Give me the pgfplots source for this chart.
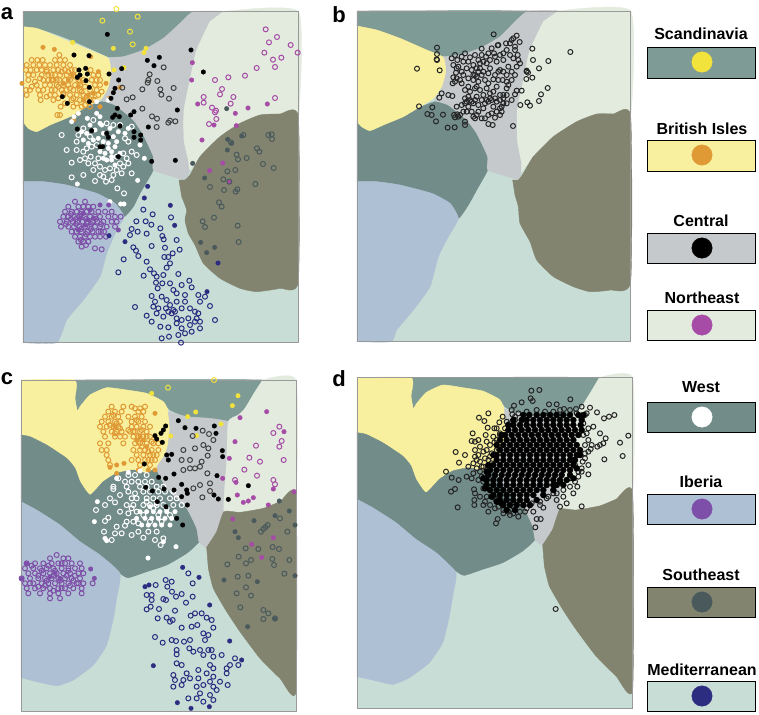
\documentclass[border=0pt]{standalone}
\usepackage{pgfplots}
\pgfplotsset{compat=1.18}
\usepackage{fontspec}
\setmainfont{Liberation Sans}
\definecolor{cSc}{HTML}{7F9B95}
\definecolor{cBr}{HTML}{F8F09E}
\definecolor{cCe}{HTML}{C5C9CB}
\definecolor{cNe}{HTML}{E3EBDF}
\definecolor{cWe}{HTML}{728C8A}
\definecolor{cIb}{HTML}{AEC0D3}
\definecolor{cSe}{HTML}{82846F}
\definecolor{cMe}{HTML}{C7DDD6}
\definecolor{mSc}{HTML}{F2E23C}
\definecolor{mBr}{HTML}{E09A35}
\definecolor{mCe}{HTML}{000000}
\definecolor{mNe}{HTML}{A64CA6}
\definecolor{mWe}{HTML}{FFFFFF}
\definecolor{mIb}{HTML}{7E4FA8}
\definecolor{mSe}{HTML}{4A5A5C}
\definecolor{mMe}{HTML}{2C2C80}
\pgfplotsset{
 panel/.style={hide axis,scale only axis,clip=false,y dir=reverse,anchor=north west},
 rg/.style={fill=#1,draw=#1,line width=0.4pt,smooth,tension=0.3},
 base/.style={fill=#1,draw=#1,line width=0.4pt},
 ring/.style={only marks,mark=o,mark size=2.5pt,mark options={draw=#1,fill=none,line width=1pt}},
 dot/.style={only marks,mark=*,mark size=2.3pt,mark options={draw=#1,fill=#1,line width=0.3pt}},
 frame/.style={draw=black!40,line width=0.9pt,fill=none},
}
\begin{document}
\begin{tikzpicture}
% base axis: page, legend, letters
\begin{axis}[panel,at={(0pt,0pt)},width=759pt,height=714pt,xmin=0,xmax=759,ymin=0,ymax=714]
\addplot[fill=white,draw=none] coordinates {(0,0)(759,0)(759,714)(0,714)} -- cycle;
\addplot[fill=cSc,draw=black,line width=0.9pt] coordinates {(647,47)(755,47)(755,78)(647,78)} -- cycle;
\addplot[fill=cBr,draw=black,line width=0.9pt] coordinates {(647,140)(755,140)(755,171)(647,171)} -- cycle;
\addplot[fill=cCe,draw=black,line width=0.9pt] coordinates {(647,233)(755,233)(755,263)(647,263)} -- cycle;
\addplot[fill=cNe,draw=black,line width=0.9pt] coordinates {(647,310)(755,310)(755,340)(647,340)} -- cycle;
\addplot[fill=cWe,draw=black,line width=0.9pt] coordinates {(647,402)(755,402)(755,432)(647,432)} -- cycle;
\addplot[fill=cIb,draw=black,line width=0.9pt] coordinates {(647,494)(755,494)(755,524)(647,524)} -- cycle;
\addplot[fill=cSe,draw=black,line width=0.9pt] coordinates {(647,587)(755,587)(755,617)(647,617)} -- cycle;
\addplot[fill=cMe,draw=black,line width=0.9pt] coordinates {(647,681)(755,681)(755,711)(647,711)} -- cycle;
\addplot[only marks,mark=*,mark size=10.2pt,mark options={draw=mSc,fill=mSc}] coordinates {(702,62)};
\addplot[only marks,mark=*,mark size=10.2pt,mark options={draw=mBr,fill=mBr}] coordinates {(702,155)};
\addplot[only marks,mark=*,mark size=10.2pt,mark options={draw=mCe,fill=mCe}] coordinates {(702,248)};
\addplot[only marks,mark=*,mark size=10.2pt,mark options={draw=mNe,fill=mNe}] coordinates {(702,325)};
\addplot[only marks,mark=*,mark size=10.2pt,mark options={draw=mWe,fill=mWe}] coordinates {(702,417)};
\addplot[only marks,mark=*,mark size=10.2pt,mark options={draw=mIb,fill=mIb}] coordinates {(702,509)};
\addplot[only marks,mark=*,mark size=10.2pt,mark options={draw=mSe,fill=mSe}] coordinates {(702,602)};
\addplot[only marks,mark=*,mark size=10.2pt,mark options={draw=mMe,fill=mMe}] coordinates {(702,696)};
\begin{scope}[every node/.style={font=\fontsize{16}{18}\selectfont\bfseries,inner sep=0pt}]
\node at (axis cs:701,34) {Scandinavia};
\node at (axis cs:702,129) {British Isles};
\node at (axis cs:701,221) {Central};
\node at (axis cs:702,298) {Northeast};
\node at (axis cs:701,387) {West};
\node at (axis cs:701,482) {Iberia};
\node at (axis cs:701,575) {Southeast};
\node at (axis cs:702,670) {Mediterranean};
\end{scope}
\begin{scope}[every node/.style={font=\fontsize{22}{24}\selectfont\bfseries,inner sep=0pt}]
\node at (axis cs:7,14) {a};
\node at (axis cs:339,15) {b};
\node at (axis cs:7,379) {c};
\node at (axis cs:339,379) {d};
\end{scope}
\end{axis}
% ---------- panel a
\begin{axis}[panel,at={(0pt,0pt)},width=310pt,height=350pt,xmin=0,xmax=930,ymin=0,ymax=1050]
\addplot[base=cMe] coordinates {(69,35)(895,35)(895,1028)(69,1028)} -- cycle;
\addplot[rg=cSc] coordinates {(69,35)(580,35)(540,70)(490,115)(430,150)(370,170)(330,172)(280,150)(200,115)(130,90)(69,80)} -- cycle;
\addplot[rg=cWe] coordinates {(69,365)(85,385)(110,393)(150,375)(210,350)(260,322)(305,305)(345,315)(400,360)(430,405)(460,470)(460,510)(420,580)(400,620)(372,650)(345,610)(290,580)(200,555)(130,545)(69,545)} -- cycle;
\addplot[rg=cCe] coordinates {(330,172)(370,170)(430,150)(490,115)(540,70)(580,35)(670,35)(630,65)(590,150)(570,240)(552,330)(552,420)(565,480)(570,510)(555,540)(520,530)(460,510)(460,470)(430,405)(400,360)(345,315)(305,300)(325,260)(333,215)} -- cycle;
\addplot[rg=cBr] coordinates {(69,80)(110,85)(160,105)(220,130)(280,155)(325,175)(333,215)(325,260)(305,295)(260,320)(210,350)(150,375)(110,395)(85,385)(69,365)} -- cycle;
\addplot[rg=cNe] coordinates {(670,35)(895,35)(895,350)(840,342)(780,345)(720,370)(660,410)(600,470)(570,510)(565,480)(552,420)(552,330)(570,240)(590,150)(630,65)} -- cycle;
\addplot[rg=cSe] coordinates {(537,540)(555,540)(570,525)(600,470)(660,410)(720,370)(780,345)(840,342)(895,350)(895,845)(840,865)(770,875)(720,865)(660,835)(610,790)(585,735)(565,700)(555,660)(560,630)(545,590)} -- cycle;
\addplot[rg=cIb] coordinates {(69,545)(130,545)(200,555)(290,580)(345,610)(372,650)(350,690)(320,760)(300,830)(250,900)(200,960)(170,1028)(69,1028)} -- cycle;
\addplot[frame] coordinates {(69,35)(895,35)(895,1028)(69,1028)} -- cycle;
\addplot[ring=mSc] coordinates {(349,27)(307,62)(413,50)(390,95)(398,133)};
\addplot[dot=mSc] coordinates {(218,127)(340,145)(438,145)(432,158)(342,210)(372,203)};
\addplot[ring=mBr] coordinates {(178,165)(95,180)(112,180)(128,180)(165,180)(180,180)(80,195)(100,195)(118,195)(150,195)(170,195)(190,195)(210,195)(78,210)(92,210)(110,210)(125,210)(140,210)(160,210)(175,210)(195,210)(215,210)(225,210)(272,210)(85,225)(125,225)(145,225)(165,225)(180,225)(200,225)(220,225)(280,225)(295,225)(85,240)(130,240)(145,240)(160,240)(178,240)(195,240)(210,240)(235,240)(250,240)(275,240)(290,240)(110,255)(150,255)(170,255)(190,255)(205,255)(225,255)(240,255)(285,255)(300,255)(78,270)(90,270)(115,270)(165,270)(185,270)(200,270)(220,270)(240,270)(270,270)(290,270)(80,285)(120,285)(150,285)(165,285)(190,285)(210,285)(230,285)(250,285)(275,285)(295,285)(122,300)(160,300)(215,300)(240,300)(262,300)(285,300)(182,320)(220,320)(245,320)(270,320)(172,345)(180,345)(140,215)(155,225)(170,240)(185,215)(205,215)(225,230)(240,245)(255,260)(245,275)(210,265)(190,280)(175,260)(155,270)(135,255)(120,235)(100,225)(105,245)(95,260)(135,195)(195,180)(155,240)(220,295)(260,290)(280,300)(305,275)(300,240)(130,270)(140,290)(175,295)(195,310)(230,310)(255,315)};
\addplot[dot=mBr] coordinates {(129,142)(163,148)(66,250)(272,170)(295,215)(318,250)(360,262)(300,320)(235,340)(220,360)(328,295)(280,280)(250,300)(205,240)(190,250)(215,225)(235,260)(265,285)};
\addplot[ring=mWe] coordinates {(185,405)(200,450)(230,450)(250,455)(215,488)(240,480)(255,475)(272,470)(285,490)(300,500)(315,510)(330,505)(350,510)(370,500)(385,490)(395,520)(250,525)(215,532)(285,543)(300,525)(318,545)(335,540)(352,565)(372,580)(310,530)(365,520)(280,510)(350,470)(370,460)(395,455)(410,465)(385,425)(375,415)(360,375)(395,380)(340,375)(320,370)(275,440)(290,435)(260,445)(235,405)(250,385)(280,360)(265,490)(295,475)(340,525)(380,475)(270,410)(305,440)(360,490)(230,425)};
\addplot[dot=mWe] coordinates {(262,355)(290,340)(222,350)(215,365)(300,350)(235,340)(325,300)(290,305)(232,552)(413,541)(433,475)(420,435)(330,605)(362,612)(372,612)(300,370)(270,375)(245,395)(260,400)(285,390)(305,375)(330,385)(355,395)(310,400)(340,410)(295,415)(325,430)(345,440)(300,455)(315,460)(335,455)(350,425)(320,480)(335,480)(310,475)(345,495)(385,385)(375,400)(280,420)(250,420)(265,430)(360,460)(325,445)(310,425)(335,470)};
\addplot[ring=mCe!75!white] coordinates {(491,202)(449,223)(443,248)(472,243)(427,268)(481,268)(484,284)(521,264)(507,296)(380,298)(398,292)(367,263)(427,326)(456,349)(471,356)(470,381)(505,368)(510,362)(526,364)(445,240)};
\addplot[dot=mCe] coordinates {(322,103)(222,165)(267,167)(442,181)(478,172)(462,197)(573,150)(365,206)(610,216)(327,222)(356,240)(237,210)(257,205)(240,225)(232,232)(262,222)(258,242)(268,262)(187,290)(202,310)(268,305)(345,265)(340,278)(333,295)(352,325)(345,345)(338,352)(402,335)(392,345)(532,330)(445,381)(232,387)(275,392)(320,400)(325,412)(360,378)(402,395)(402,412)(422,405)(422,420)(300,440)(308,440)(355,470)(455,484)(526,481)(358,350)};
\addplot[ring=mNe] coordinates {(797,88)(831,111)(807,127)(872,135)(893,158)(793,158)(844,173)(819,179)(825,201)(770,204)(735,227)(685,232)(645,240)(666,267)(660,283)(700,291)(825,294)(611,291)(611,308)(692,311)(636,323)(648,332)(645,337)(649,357)(627,372)};
\addplot[dot=mNe] coordinates {(577,188)(575,240)(593,312)(744,324)(802,312)(706,340)(709,377)(642,375)(606,420)(668,489)(629,512)(688,546)};
\addplot[ring=mSe] coordinates {(730,405)(805,405)(815,403)(816,417)(693,427)(771,445)(778,455)(710,464)(714,478)(740,474)(789,492)(821,504)(682,514)(706,510)(670,538)(688,545)(630,561)(672,570)(707,575)(712,568)(766,552)(657,607)(665,620)(642,653)(608,664)(615,681)(713,677)(716,726)};
\addplot[dot=mSe] coordinates {(680,326)(683,418)(682,450)(695,430)(578,490)(614,534)(602,727)(644,742)(620,758)(725,408)};
\addplot[ring=mIb] coordinates {(225,605)(255,605)(205,620)(235,620)(250,620)(265,620)(280,620)(195,635)(215,635)(230,635)(245,635)(260,635)(275,635)(295,635)(315,635)(335,635)(190,650)(205,650)(222,650)(238,650)(255,650)(270,650)(285,650)(300,650)(325,650)(345,650)(362,650)(180,665)(200,665)(218,665)(232,665)(248,665)(262,665)(278,665)(292,665)(310,665)(335,665)(350,665)(183,680)(205,680)(222,680)(238,680)(255,680)(270,680)(285,680)(300,680)(320,680)(345,680)(215,695)(230,695)(245,695)(262,695)(278,695)(295,695)(312,695)(225,710)(240,710)(255,710)(270,710)(285,710)(300,710)(318,710)(235,725)(250,725)(265,725)(245,740)(285,745)(305,748)(213,642)(228,657)(243,642)(258,657)(273,672)(228,672)(243,687)(258,702)(273,687)(213,657)(198,672)(288,657)(303,672)(243,720)(258,735)(303,695)};
\addplot[dot=mIb] coordinates {(355,690)(326,615)(300,615)(250,640)(240,655)(265,660)(255,675)(280,655)(235,690)(270,630)};
\addplot[ring=mMe] coordinates {(430,629)(458,643)(513,652)(409,664)(437,664)(454,674)(481,685)(395,687)(413,695)(440,701)(390,705)(487,708)(491,718)(530,720)(400,742)(408,752)(455,738)(495,743)(539,749)(415,768)(371,778)(493,771)(505,771)(518,760)(440,785)(510,790)(500,803)(355,817)(431,827)(450,808)(462,820)(470,830)(490,825)(535,822)(468,848)(473,865)(487,850)(510,850)(545,855)(568,842)(575,862)(520,870)(530,880)(555,885)(595,885)(615,890)(455,888)(465,905)(485,890)(500,900)(510,915)(520,930)(530,905)(555,905)(600,905)(405,921)(460,920)(475,925)(498,925)(505,935)(515,940)(525,935)(545,925)(570,925)(585,935)(595,940)(630,918)(440,947)(455,965)(470,940)(490,950)(530,955)(545,960)(565,955)(590,955)(600,965)(645,960)(481,980)(505,982)(530,970)(545,985)(570,975)(585,965)(600,985)(485,1015)(507,1010)(535,1005)(555,1000)(575,995)(543,1028)};
\addplot[dot=mMe] coordinates {(443,559)(433,594)(511,616)(524,676)(375,725)(654,789)(621,875)(327,707)};
\end{axis}
% ---------- panel b
\begin{axis}[panel,at={(340pt,0pt)},width=290pt,height=350pt,xmin=0,xmax=870,ymin=0,ymax=1050]
\addplot[base=cMe] coordinates {(51,33)(872,33)(872,1025)(51,1025)} -- cycle;
\addplot[rg=cSc] coordinates {(51,33)(565,33)(530,60)(480,110)(420,145)(360,165)(310,170)(260,150)(180,115)(110,90)(51,78)} -- cycle;
\addplot[rg=cWe] coordinates {(51,365)(65,380)(90,392)(130,375)(190,350)(240,322)(285,305)(325,315)(380,360)(410,400)(443,470)(443,510)(410,570)(385,615)(355,655)(330,610)(275,580)(180,555)(110,545)(51,545)} -- cycle;
\addplot[rg=cCe] coordinates {(310,170)(360,165)(420,145)(480,110)(530,60)(565,33)(655,33)(610,65)(570,150)(550,240)(532,330)(532,420)(545,490)(545,510)(535,538)(505,530)(443,510)(443,470)(410,400)(380,360)(325,315)(285,300)(305,260)(317,215)} -- cycle;
\addplot[rg=cBr] coordinates {(51,78)(110,90)(180,115)(260,150)(310,172)(317,215)(305,260)(280,295)(240,320)(190,350)(130,375)(90,392)(65,380)(51,365)} -- cycle;
\addplot[rg=cNe] coordinates {(655,33)(872,33)(872,348)(820,342)(770,342)(710,365)(640,410)(580,470)(545,515)(545,490)(532,420)(532,330)(550,240)(570,150)(610,65)} -- cycle;
\addplot[rg=cSe] coordinates {(518,540)(535,540)(550,520)(580,470)(640,410)(710,365)(770,342)(820,342)(872,348)(872,845)(810,870)(750,875)(700,860)(640,830)(590,780)(570,725)(540,670)(535,620)(525,585)} -- cycle;
\addplot[rg=cIb] coordinates {(51,545)(110,545)(180,555)(275,580)(330,610)(355,655)(325,710)(295,770)(270,860)(220,930)(170,990)(153,1025)(51,1025)} -- cycle;
\addplot[frame] coordinates {(51,33)(872,33)(872,1025)(51,1025)} -- cycle;
\addplot[ring=black!85] coordinates {(461,103)(291,143)(291,162)(291,180)(290,178)(231,206)(299,211)(237,319)(277,322)(262,342)(275,345)(309,344)(288,364)(323,383)(344,382)(375,375)(375,365)(345,352)(352,343)(342,345)(519,378)(691,156)(577,146)(579,180)(625,183)(597,205)(623,264)(603,283)(597,303)(562,307)(570,317)(541,315)(577,233)(560,212)(564,218)(559,237)(530,107)(515,120)(539,126)(525,140)(498,130)(473,136)(425,146)(455,145)(462,160)(375,160)(390,172)(335,175)(352,180)(340,195)(370,185)(380,205)(415,180)(438,170)(430,185)(490,160)(510,165)(533,165)(535,180)(490,180)(505,200)(530,200)(480,210)(500,225)(515,240)(560,215)(348,218)(340,232)(338,250)(360,240)(370,225)(405,225)(400,240)(425,225)(410,260)(435,240)(460,238)(475,215)(488,240)(375,270)(405,265)(440,265)(470,260)(500,265)(525,283)(545,272)(530,272)(305,280)(325,285)(337,288)(298,293)(375,295)(390,300)(410,290)(430,285)(450,295)(470,305)(490,295)(515,300)(365,315)(400,310)(430,325)(445,305)(485,320)(380,335)(395,335)(410,345)(425,355)(445,345)(465,353)(485,335)(445,372)(458,375)(360,345)(375,310)(450,180)(400,195)(420,205)(470,185)(445,220)(510,130)(520,115)(405,355)(435,355)(490,310)(385,290)(400,225)(410,230)(415,215)(460,275)(355,200)(365,250)(345,245)(525,150)(500,245)(385,260)(455,300)(480,325)(440,300)(395,305)(420,190)(440,190)(480,165)(475,135)(345,165)(365,170)(385,185)(405,165)(425,165)(445,160)(465,170)(500,150)(520,175)(540,190)(350,205)(365,215)(395,210)(410,205)(430,215)(450,205)(465,225)(490,215)(515,215)(525,225)(350,235)(385,235)(415,245)(445,250)(475,240)(505,255)(390,275)(420,270)(450,280)(480,285)(500,285)(350,320)(385,320)(415,315)(435,310)(460,320)(500,310)(370,335)(355,350)(400,350)(415,335)(455,340)(470,335)(480,345)(380,305)(405,300)(425,300)(465,295)(480,300)(490,285)};
\end{axis}
% ---------- panel c
\begin{axis}[panel,at={(0pt,-365pt)},width=310pt,height=349pt,xmin=0,xmax=930,ymin=0,ymax=1047]
\addplot[base=cMe] coordinates {(63,45)(888,45)(888,1040)(63,1040)} -- cycle;
\addplot[rg=cSc] coordinates {(223,45)(788,45)(765,80)(735,130)(715,150)(680,168)(630,160)(560,155)(510,135)(490,110)(440,85)(380,75)(320,68)(270,90)(240,125)(232,138)(225,100)} -- cycle;
\addplot[rg=cBr] coordinates {(63,45)(223,45)(225,100)(232,138)(240,125)(270,90)(320,68)(380,75)(440,85)(490,110)(505,140)(510,190)(505,235)(495,270)(470,310)(440,325)(400,315)(350,325)(310,350)(270,390)(240,350)(225,310)(200,280)(140,240)(90,215)(63,210)} -- cycle;
\addplot[rg=cWe] coordinates {(63,210)(90,215)(140,240)(200,280)(225,310)(240,350)(270,390)(310,350)(350,325)(400,315)(440,325)(470,310)(500,370)(560,430)(590,490)(597,530)(560,565)(500,600)(440,620)(385,638)(360,625)(300,570)(240,530)(180,480)(110,435)(63,410)} -- cycle;
\addplot[rg=cCe] coordinates {(505,140)(560,155)(630,160)(685,170)(685,200)(680,290)(670,410)(672,440)(650,500)(620,547)(597,530)(590,490)(560,430)(500,370)(470,310)(495,270)(505,235)(510,190)} -- cycle;
\addplot[rg=cNe] coordinates {(788,45)(888,45)(888,392)(840,410)(790,430)(720,442)(672,440)(680,290)(685,170)(715,150)(735,130)(765,80)} -- cycle;
\addplot[rg=cSe] coordinates {(620,547)(650,500)(672,440)(720,442)(790,430)(840,410)(888,392)(888,978)(840,940)(780,880)(720,800)(680,740)(640,670)(625,610)} -- cycle;
\addplot[rg=cIb] coordinates {(63,410)(110,435)(180,480)(240,530)(300,570)(360,625)(350,700)(340,760)(320,840)(280,900)(220,945)(170,962)(110,950)(63,938)} -- cycle;
\addplot[frame] coordinates {(63,45)(888,45)(888,1040)(63,1040)} -- cycle;
\addplot[ring=mSc] coordinates {(504,68)(642,45)};
\addplot[dot=mSc] coordinates {(455,85)(714,92)(697,122)(587,141)(563,155)(663,177)(590,212)(512,213)};
\addplot[ring=mBr] coordinates {(335,125)(370,125)(395,125)(435,125)(325,140)(345,140)(365,140)(415,140)(430,140)(315,155)(335,155)(355,155)(385,155)(405,155)(425,155)(305,170)(325,170)(345,170)(360,170)(395,170)(415,170)(435,170)(300,185)(320,185)(340,185)(355,185)(395,185)(410,185)(430,185)(450,185)(310,200)(335,200)(350,200)(365,200)(390,200)(405,200)(420,200)(440,200)(315,215)(345,215)(360,215)(375,215)(400,215)(415,215)(430,215)(450,215)(300,235)(325,235)(370,235)(405,235)(420,235)(440,235)(460,235)(305,255)(320,255)(400,255)(420,255)(435,255)(455,255)(475,255)(320,270)(410,270)(430,270)(450,270)(470,270)(325,285)(395,285)(415,285)(445,285)(465,285)(330,300)(420,300)(450,300)(340,150)(350,175)(360,190)(345,205)(330,180)(410,165)(425,195)(440,215)(455,230)(425,245)(445,260)(460,270)(415,230)(400,200)(435,285)(455,285)(475,235)(385,195)(405,130)(420,130)};
\addplot[dot=mBr] coordinates {(465,145)(350,300)(330,307)(372,295)(350,325)(415,315)(445,315)(465,315)(345,185)(420,215)(430,225)(410,225)(440,245)};
\addplot[ring=mWe] coordinates {(340,365)(340,372)(355,340)(405,385)(330,400)(345,412)(288,435)(315,420)(360,440)(385,445)(325,458)(315,468)(350,485)(375,482)(400,470)(345,505)(365,505)(395,510)(312,500)(335,525)(430,518)(465,525)(490,520)(482,540)(415,500)(445,500)(470,500)(360,390)(380,420)(410,400)(385,330)(405,330)(440,330)(375,350)(395,350)(415,350)(435,350)(455,350)(380,365)(420,365)(440,365)(470,365)(490,365)(385,380)(430,380)(450,380)(475,380)(495,380)(520,380)(395,400)(440,400)(460,400)(480,400)(510,400)(530,400)(400,420)(430,420)(450,420)(470,420)(490,420)(520,420)(545,420)(440,410)(460,430)(475,450)(500,430)(430,450)(450,470)(485,470)(510,450)(395,430)(415,475)(380,470)(410,440)};
\addplot[dot=mWe] coordinates {(292,410)(283,470)(315,520)(320,527)(444,579)(528,545)(385,322)(420,318)(350,340)(490,530)(420,440)(440,440)(460,440)(480,440)(500,440)(525,440)(410,460)(435,460)(455,460)(475,460)(495,460)(515,460)(425,480)(445,480)(465,480)(485,480)(510,480)(450,425)(470,415)};
\addplot[ring=mCe!75!white] coordinates {(608,197)(578,213)(627,207)(640,225)(585,250)(610,240)(550,255)(625,250)(623,272)(545,285)(570,285)(605,290)(600,305)(550,315)(570,310)(585,310)(622,325)(630,355)(600,360)(580,370)(630,378)(607,397)};
\addplot[dot=mCe] coordinates {(535,167)(555,188)(588,190)(643,183)(648,205)(497,183)(490,195)(483,205)(465,212)(470,222)(487,232)(667,257)(668,275)(500,270)(515,268)(505,285)(433,297)(522,327)(476,337)(497,340)(651,332)(545,358)(437,367)(457,378)(492,372)(522,375)(560,375)(562,385)(642,390)(655,402)(545,395)(472,410)(498,425)(562,420)(530,460)(548,480)(745,362)(685,403)};
\addplot[ring=mNe] coordinates {(838,185)(820,204)(845,228)(838,245)(768,242)(748,278)(780,290)(851,285)(733,314)(771,332)(705,345)(820,345)(825,358)};
\addplot[dot=mNe] coordinates {(720,158)(800,140)(852,200)(705,230)(688,280)(668,340)(708,352)(820,372)(882,380)(712,390)(730,412)(745,408)(760,398)(805,420)(698,462)(820,518)(755,538)(785,577)};
\addplot[ring=mSe] coordinates {(840,460)(803,480)(797,486)(790,492)(783,500)(862,500)(737,550)(775,552)(818,546)(837,552)(716,575)(682,598)(738,595)(753,585)(817,582)(822,600)(868,585)(853,626)(713,635)(745,632)(738,667)(710,685)(753,692)(721,727)(790,735)(805,745)(790,762)(825,760)};
\addplot[dot=mSe] coordinates {(838,408)(868,438)(762,467)(825,452)(705,500)(715,518)(885,480)(885,632)(772,650)(672,645)(825,762)(743,785)};
\addplot[ring=mIb] coordinates {(170,570)(150,580)(190,580)(205,580)(80,595)(105,595)(130,595)(155,595)(175,595)(195,595)(215,595)(240,595)(75,610)(100,610)(120,610)(140,610)(160,610)(185,610)(205,610)(225,610)(245,610)(85,625)(105,625)(130,625)(150,625)(170,625)(190,625)(210,625)(235,625)(250,625)(65,640)(90,640)(115,640)(135,640)(155,640)(175,640)(195,640)(215,640)(240,640)(75,655)(100,655)(125,655)(145,655)(165,655)(185,655)(205,655)(230,655)(250,655)(278,655)(80,670)(105,670)(130,670)(150,670)(175,670)(195,670)(220,670)(245,670)(85,685)(120,685)(150,685)(175,685)(205,685)(245,685)(150,700)(180,700)(95,602)(125,617)(145,602)(165,617)(185,595)(205,617)(225,632)(115,632)(140,647)(160,632)(180,647)(200,632)(220,647)(90,655)(115,665)(135,662)(160,677)(185,670)(210,662)(235,655)};
\addplot[dot=mIb] coordinates {(272,612)(283,640)(65,642)(80,596)(165,625)(180,640)(150,635)};
\addplot[ring=mMe] coordinates {(565,625)(578,655)(497,645)(515,650)(467,660)(502,665)(516,680)(545,687)(528,695)(578,695)(440,690)(455,690)(455,705)(490,702)(498,705)(558,713)(440,733)(452,725)(477,732)(525,737)(585,745)(572,752)(605,745)(620,758)(635,765)(473,760)(500,758)(510,770)(518,765)(545,788)(575,785)(592,780)(640,788)(610,805)(625,810)(615,825)(465,816)(488,833)(515,825)(528,828)(552,830)(570,825)(530,855)(530,868)(568,850)(580,860)(600,855)(625,855)(635,855)(610,870)(640,875)(665,870)(705,880)(690,900)(715,900)(680,910)(530,895)(545,900)(630,900)(640,910)(595,915)(560,925)(520,930)(620,925)(680,925)(550,945)(525,945)(570,940)(640,935)(595,940)(630,950)(660,950)(520,965)(545,960)(590,965)(640,965)(610,960)(683,960)(600,985)(650,975)(565,1000)(590,1000)(630,990)(640,1005)(610,1010)};
\addplot[dot=mMe] coordinates {(548,607)(597,637)(447,660)(435,665)(629,720)(689,828)(460,902)(725,885)(532,1013)(573,1030)(628,1025)};
\end{axis}
% ---------- panel d
\begin{axis}[panel,at={(340pt,-365pt)},width=300pt,height=349pt,xmin=0,xmax=900,ymin=0,ymax=1047]
\addplot[base=cMe] coordinates {(51,38)(878,38)(878,1030)(51,1030)} -- cycle;
\addplot[rg=cSc] coordinates {(213,38)(778,38)(753,80)(725,125)(703,145)(668,160)(618,153)(548,148)(498,128)(478,103)(428,78)(368,68)(308,60)(258,83)(228,118)(220,131)(213,93)} -- cycle;
\addplot[rg=cBr] coordinates {(51,38)(213,38)(213,93)(220,131)(228,118)(258,83)(308,60)(368,68)(428,78)(478,103)(493,133)(498,183)(493,228)(483,263)(458,303)(428,318)(388,308)(338,318)(298,343)(258,383)(228,343)(213,303)(188,273)(128,233)(78,208)(51,203)} -- cycle;
\addplot[rg=cWe] coordinates {(51,203)(78,208)(128,233)(188,273)(213,303)(228,343)(258,383)(298,343)(338,318)(388,308)(428,318)(458,303)(488,363)(548,423)(578,483)(585,523)(548,558)(488,593)(428,613)(373,631)(348,618)(288,563)(228,523)(168,473)(98,428)(51,403)} -- cycle;
\addplot[rg=cCe] coordinates {(493,133)(548,148)(618,153)(673,163)(673,193)(668,283)(658,403)(660,433)(638,493)(608,540)(585,523)(578,483)(548,423)(488,363)(458,303)(483,263)(493,228)(498,183)} -- cycle;
\addplot[rg=cNe] coordinates {(778,38)(878,38)(878,385)(828,403)(778,423)(708,435)(660,433)(668,283)(673,163)(703,145)(725,125)(753,80)} -- cycle;
\addplot[rg=cSe] coordinates {(608,540)(638,493)(660,433)(708,435)(778,423)(828,403)(878,385)(878,973)(828,933)(768,873)(708,793)(668,733)(628,663)(613,603)} -- cycle;
\addplot[rg=cIb] coordinates {(51,403)(98,428)(168,473)(228,523)(288,563)(348,623)(338,693)(328,753)(308,833)(268,893)(208,938)(158,958)(98,945)(51,935)} -- cycle;
\addplot[frame] coordinates {(51,38)(878,38)(878,1030)(51,1030)} -- cycle;
\addplot[ring=black!85] coordinates {(574,77)(598,75)(572,100)(578,108)(545,112)(522,122)(515,135)(517,148)(627,118)(650,118)(691,103)(672,132)(708,132)(725,125)(750,128)(771,142)(823,150)(807,155)(792,160)(445,145)(417,158)(433,168)(488,155)(478,172)(443,188)(463,190)(437,210)(398,205)(395,228)(415,225)(463,232)(405,255)(347,261)(375,270)(357,293)(318,320)(335,338)(356,345)(380,335)(333,380)(345,372)(402,373)(353,427)(403,405)(403,420)(468,475)(473,462)(586,487)(590,462)(602,462)(580,440)(610,428)(725,424)(680,415)(660,425)(647,732)(865,212)(840,233)(848,273)(793,283)(780,205)(797,220)(790,235)(772,245)(780,240)(760,185)(740,205)(752,252)(745,300)(725,320)(745,328)(715,335)(690,340)(712,365)(400,295)(415,270)(420,290)(430,260)(450,240)(475,250)(410,310)(385,305)(425,335)(395,340)(430,370)(440,395)(430,420)(445,440)(465,430)(490,445)(510,450)(535,455)(555,440)(470,405)(620,400)(640,385)(650,405)(440,230)(455,265)(445,285)(430,305)(420,320)(405,275)(735,150)(730,175)(745,225)(735,265)(728,290)(705,300)(470,190)(480,210)(500,170)(525,165)(700,385)(670,395)(600,420)(520,425)(405,230)(420,245)(440,255)(460,215)(470,225)(450,275)(470,255)(410,285)(435,280)(455,295)(425,305)(440,315)(400,325)(415,345)(430,350)(405,385)(420,395)(435,410)(450,420)(465,400)(475,425)(490,435)(505,440)(520,445)(540,440)(560,430)(575,415)(600,410)(625,395)(650,385)(670,375)(690,365)(705,350)(715,320)(725,310)(735,280)(720,270)(745,260)(735,240)(755,240)(730,210)(745,190)(725,160)(740,145)(710,145)(690,135)(660,135)(640,140)(615,140)(590,135)(560,140)(535,145)(525,155)(510,175)(495,190)(480,205)};
\addplot[only marks,mark=*,mark size=3pt,mark options={draw=black,fill=black}] coordinates {
(550,150)(568,150)(590,150)(610,150)(630,150)(650,150)(670,150)(690,150)(715,150)(730,150)
(545,165)(560,165)(580,165)(600,165)(620,165)(640,165)(660,165)(680,165)(700,165)(725,165)
(520,180)(540,180)(560,180)(580,180)(600,180)(620,180)(640,180)(660,180)(680,180)(700,180)(722,180)
(505,195)(525,195)(545,195)(565,195)(585,195)(605,195)(625,195)(645,195)(665,195)(685,195)(705,195)(725,195)
(495,210)(515,210)(535,210)(555,210)(575,210)(595,210)(615,210)(635,210)(655,210)(675,210)(695,210)(715,210)
(480,225)(500,225)(520,225)(540,225)(560,225)(580,225)(600,225)(620,225)(640,225)(660,225)(680,225)(700,225)
(490,240)(510,240)(530,240)(550,240)(570,240)(590,240)(610,240)(630,240)(650,240)(670,240)(690,240)(710,240)
(480,255)(500,255)(520,255)(540,255)(560,255)(580,255)(600,255)(620,255)(640,255)(660,255)(680,255)(700,255)(720,255)
(470,270)(490,270)(510,270)(530,270)(550,270)(570,270)(590,270)(610,270)(630,270)(650,270)(670,270)(690,270)(710,270)
(470,285)(490,285)(510,285)(530,285)(550,285)(570,285)(590,285)(610,285)(630,285)(650,285)(670,285)(690,285)(700,285)
(460,300)(480,300)(500,300)(520,300)(540,300)(560,300)(580,300)(600,300)(620,300)(640,300)(660,300)(680,300)(700,300)
(450,315)(470,315)(490,315)(510,315)(530,315)(550,315)(570,315)(590,315)(610,315)(630,315)(650,315)(670,315)(690,315)
(445,330)(465,330)(485,330)(505,330)(525,330)(545,330)(565,330)(585,330)(605,330)(625,330)(645,330)(665,330)(690,330)
(440,345)(460,345)(480,345)(500,345)(520,345)(540,345)(560,345)(580,345)(600,345)(620,345)(640,345)(660,345)(680,345)
(440,360)(460,360)(480,360)(500,360)(520,360)(540,360)(560,360)(580,360)(600,360)(620,360)(640,360)(670,360)
(450,375)(470,375)(490,375)(510,375)(530,375)(550,375)(570,375)(590,375)(610,375)(640,375)
(460,390)(480,390)(500,390)(520,390)(540,390)(560,390)(580,390)(610,390)
(480,405)(500,405)(520,405)(540,405)(560,405)(590,405)
(490,420)(510,420)(530,420)(550,420)(570,420)
(500,435)(525,435)(720,270)(705,285)(710,310)(700,340)(520,165)(505,180)(485,210)(470,240)(460,270)(445,300)(440,320)(430,340)(435,370)(455,395)(470,410)(485,415)(650,360)(660,350)};
\end{axis}
\end{tikzpicture}
\end{document}
